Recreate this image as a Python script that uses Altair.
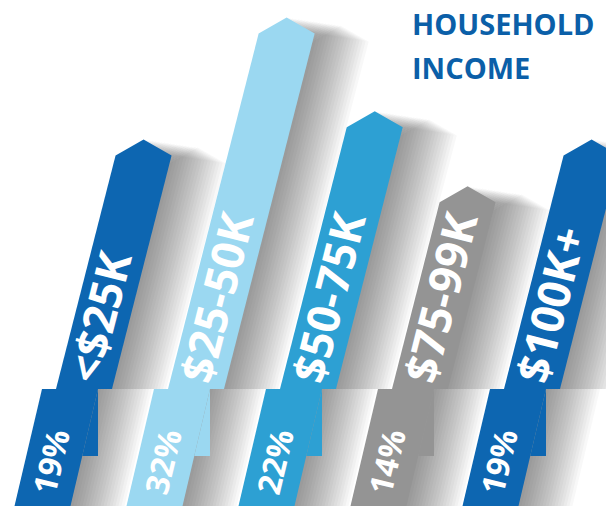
import altair as alt
import pandas as pd

# ---- data -------------------------------------------------------------
categories = ["<$25K", "$25-50K", "$50-75K", "$75-99K", "$100K+"]
values = [19, 32, 22, 14, 19]
percent_labels = ["19%", "32%", "22%", "14%", "19%"]
title_lines = ["HOUSEHOLD", "INCOME"]

# ---- styles -----------------------------------------------------------
colors = ["#0d66b1", "#9bd8f1", "#2da0d3", "#949494", "#0d66b1"]
fold_colors = ["#0a579e", "#7cc4df", "#2189bd", "#7c7474", "#0a579e"]
title_color = "#0b5fa8"
FONT = "Open Sans"

# ---- geometry (scale units) ------------------------------------------
PX_X = 112.0      # pixels per category step
PX_Y = 9.378      # pixels per percentage point
WIDTH, HEIGHT = 598, 498


def vy(px):
    return px / PX_Y


V_BASE = -7.61                 # level where the slanted bars meet the base tabs
V_FOLD = V_BASE - vy(67)
V_BOTTOM = V_BASE - vy(145)
ARROW = vy(16)
W = 56 / PX_X
OFF = 14 / PX_X
SU = 0.255 * PX_Y / PX_X       # slant of upper bar
SB = 0.235 * PX_Y / PX_X       # slant of base tab

xscale = alt.Scale(domain=[-34 / PX_X, (WIDTH - 34) / PX_X], nice=False, zero=False)
yscale = alt.Scale(domain=[V_BASE - vy(HEIGHT - 381), V_BASE + vy(381)], nice=False, zero=False)

upper_rows, base_rows, fold_rows, shadow_rows, label_rows, pct_rows = [], [], [], [], [], []
for i, (cat, p) in enumerate(zip(categories, values)):
    def up_left(v, i=i):
        return i + OFF + SU * (v - V_BASE)

    def base_left(v, i=i):
        return i + SB * (v - V_BASE)

    vc = p - ARROW
    upper = [
        (p, up_left(vc) + W / 2, up_left(vc) + W / 2),
        (vc, up_left(vc), up_left(vc) + W),
        (V_BASE, up_left(V_BASE), up_left(V_BASE) + W),
    ]
    base = [
        (V_BASE, base_left(V_BASE), base_left(V_BASE) + W),
        (V_BOTTOM, base_left(V_BOTTOM), base_left(V_BOTTOM) + W),
    ]
    fold = [
        (V_BASE, i + W, i + W),
        (V_FOLD, base_left(V_FOLD) + W, i + W),
    ]
    for v, a, b in upper:
        upper_rows.append({"cat": cat, "gid": f"u{i}", "v": v, "x": a, "x2": b})
    for v, a, b in base:
        base_rows.append({"cat": cat, "gid": f"b{i}", "v": v, "x": a, "x2": b})
    for v, a, b in fold:
        fold_rows.append({"cat": cat, "gid": f"f{i}", "v": v, "x": a, "x2": b})
    # soft drop shadow: stacked translucent copies shifted to the right
    for k, d in enumerate(range(3, 57, 3)):
        du = d / PX_X
        dv = vy(d * 0.15)
        for v, a, b in upper:
            vv = v - dv if v != V_BASE else v
            shadow_rows.append({"gid": f"su{i}-{k}", "v": vv, "x": a + du, "x2": b + du})
        for v, a, b in base:
            shadow_rows.append({"gid": f"sb{i}-{k}", "v": v, "x": a + du, "x2": b + du})
    vl = V_BASE + vy(7)
    label_rows.append({"cat": cat, "v": vl, "x": up_left(vl) + W / 2})
    vp = V_BASE - vy(105)
    pct_rows.append({"cat": cat, "t": percent_labels[i], "v": vp, "x": base_left(vp) + W / 2})

color_main = alt.Color("cat:N", scale=alt.Scale(domain=categories, range=colors), legend=None)
color_fold = alt.Color("cat:N", scale=alt.Scale(domain=categories, range=fold_colors), legend=None)


def area_layer(rows, color, **mark):
    enc = dict(
        y=alt.Y("v:Q", scale=yscale, axis=None),
        x=alt.X("x:Q", scale=xscale, axis=None, stack=None),
        x2="x2:Q",
        detail="gid:N",
        color=color,
    )
    return alt.Chart(pd.DataFrame(rows)).mark_area(orient="horizontal", **mark).encode(**enc)


shadow = area_layer(shadow_rows, alt.value("#3a3a3a"), opacity=0.036)
uppers = area_layer(upper_rows, color_main)
bases = area_layer(base_rows, color_main)
folds = area_layer(fold_rows, color_fold)

labels = alt.Chart(pd.DataFrame(label_rows)).mark_text(
    angle=284.3, align="left", baseline="middle", font=FONT, fontWeight="bold",
    fontSize=45, color="white"
).encode(
    x=alt.X("x:Q", scale=xscale, axis=None),
    y=alt.Y("v:Q", scale=yscale, axis=None),
    text="cat:N",
)

pcts = alt.Chart(pd.DataFrame(pct_rows)).mark_text(
    angle=283.5, align="left", baseline="middle", font=FONT, fontWeight="bold",
    fontSize=32, color="white"
).encode(
    x=alt.X("x:Q", scale=xscale, axis=None),
    y=alt.Y("v:Q", scale=yscale, axis=None),
    text="t:N",
)

title_layers = []
for j, line in enumerate(title_lines):
    title_layers.append(
        alt.Chart(pd.DataFrame({"t": [line]})).mark_text(
            align="left", baseline="alphabetic", font=FONT, fontWeight="bold",
            fontSize=29, color=title_color
        ).encode(x=alt.value(404), y=alt.value(27 + 44 * j), text="t:N")
    )

chart = alt.layer(shadow, uppers, bases, folds, labels, pcts, *title_layers).properties(
    width=WIDTH, height=HEIGHT, padding=0, autosize="none", background="white"
).configure_view(stroke=None)

chart.save("out.html", embed_options={"renderer": "svg", "actions": False})
